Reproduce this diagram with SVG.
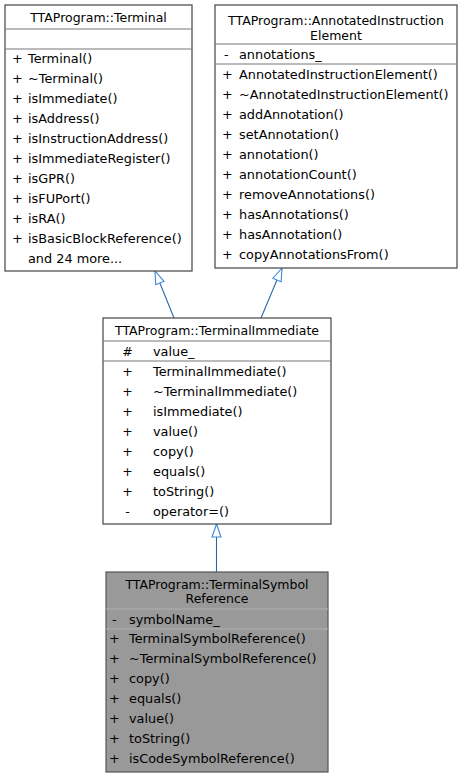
<svg xmlns="http://www.w3.org/2000/svg" width="461" height="777" viewBox="0 0 461 777">
<style>
text{font-family:"DejaVu Sans","Liberation Sans",sans-serif;font-size:12.85px;fill:#000}
.t{text-anchor:middle;font-size:12.5px}
.box{fill:#ffffff;stroke:#444;stroke-width:1.2}
.main{fill:#999999;stroke:#555;stroke-width:1.2}
.sep{stroke:#777;stroke-width:1}
.sepm{stroke:#b0b0b0;stroke-width:1}
.edge{stroke:#2c67ab;stroke-width:1.1;fill:none}
</style>
<defs>
<marker id="inh" markerUnits="userSpaceOnUse" markerWidth="16" markerHeight="12" refX="14" refY="5.5" orient="auto" viewBox="0 0 16 12">
<path d="M1,1 L14,5.5 L1,10 Z" fill="#ffffff" stroke="#3d88d6" stroke-width="1.1"/>
</marker>
</defs>
<g id="connectors">
<line class="edge" x1="174" y1="318" x2="155" y2="271" marker-end="url(#inh)"/>
<line class="edge" x1="261" y1="318" x2="282" y2="268" marker-end="url(#inh)"/>
<line class="edge" x1="216.5" y1="572" x2="216.5" y2="524" marker-end="url(#inh)"/>
</g>
<g id="Terminal">
<rect class="box" x="5" y="5" width="187" height="266"/>
<line class="sep" x1="5" y1="29" x2="192" y2="29"/>
<line class="sep" x1="5" y1="49" x2="192" y2="49"/>
<text class="t" x="98.5" y="21.5">TTAProgram::Terminal</text>
<text x="12" y="63">+</text><text x="28" y="63">Terminal()</text>
<text x="12" y="83">+</text><text x="28" y="83">~Terminal()</text>
<text x="12" y="103">+</text><text x="28" y="103">isImmediate()</text>
<text x="12" y="123">+</text><text x="28" y="123">isAddress()</text>
<text x="12" y="143">+</text><text x="28" y="143">isInstructionAddress()</text>
<text x="12" y="163">+</text><text x="28" y="163">isImmediateRegister()</text>
<text x="12" y="183">+</text><text x="28" y="183">isGPR()</text>
<text x="12" y="203">+</text><text x="28" y="203">isFUPort()</text>
<text x="12" y="223">+</text><text x="28" y="223">isRA()</text>
<text x="12" y="243">+</text><text x="28" y="243">isBasicBlockReference()</text>
<text x="28" y="263">and 24 more...</text>
</g>
<g id="AnnotatedInstructionElement">
<rect class="box" x="215" y="5" width="242" height="263"/>
<line class="sep" x1="215" y1="44" x2="457" y2="44"/>
<line class="sep" x1="215" y1="64" x2="457" y2="64"/>
<text class="t" x="336" y="24.5">TTAProgram::AnnotatedInstruction</text>
<text class="t" x="336" y="39.5">Element</text>
<text x="224" y="59">-</text><text x="239" y="59">annotations_</text>
<text x="222" y="79">+</text><text x="239" y="79">AnnotatedInstructionElement()</text>
<text x="222" y="99">+</text><text x="239" y="99">~AnnotatedInstructionElement()</text>
<text x="222" y="119">+</text><text x="239" y="119">addAnnotation()</text>
<text x="222" y="139">+</text><text x="239" y="139">setAnnotation()</text>
<text x="222" y="159">+</text><text x="239" y="159">annotation()</text>
<text x="222" y="179">+</text><text x="239" y="179">annotationCount()</text>
<text x="222" y="199">+</text><text x="239" y="199">removeAnnotations()</text>
<text x="222" y="219">+</text><text x="239" y="219">hasAnnotations()</text>
<text x="222" y="239">+</text><text x="239" y="239">hasAnnotation()</text>
<text x="222" y="259">+</text><text x="239" y="259">copyAnnotationsFrom()</text>
</g>
<g id="TerminalImmediate">
<rect class="box" x="103" y="318" width="228" height="206"/>
<line class="sep" x1="103" y1="341" x2="331" y2="341"/>
<line class="sep" x1="103" y1="361" x2="331" y2="361"/>
<text class="t" x="217" y="335">TTAProgram::TerminalImmediate</text>
<text class="t" x="127.5" y="355.5">#</text><text x="153" y="355.5">value_</text>
<text class="t" x="127.5" y="375.5">+</text><text x="153" y="375.5">TerminalImmediate()</text>
<text class="t" x="127.5" y="395.5">+</text><text x="153" y="395.5">~TerminalImmediate()</text>
<text class="t" x="127.5" y="415.5">+</text><text x="153" y="415.5">isImmediate()</text>
<text class="t" x="127.5" y="435.5">+</text><text x="153" y="435.5">value()</text>
<text class="t" x="127.5" y="455.5">+</text><text x="153" y="455.5">copy()</text>
<text class="t" x="127.5" y="475.5">+</text><text x="153" y="475.5">equals()</text>
<text class="t" x="127.5" y="495.5">+</text><text x="153" y="495.5">toString()</text>
<text class="t" x="127.5" y="515.5">-</text><text x="153" y="515.5">operator=()</text>
</g>
<g id="TerminalSymbolReference">
<rect class="main" x="106" y="572" width="222" height="200"/>
<line class="sepm" x1="106" y1="609" x2="328" y2="609"/>
<line class="sepm" x1="106" y1="629" x2="328" y2="629"/>
<text class="t" x="217" y="588.5">TTAProgram::TerminalSymbol</text>
<text class="t" x="217" y="602.5">Reference</text>
<text x="112" y="623.5">-</text><text x="129" y="623.5">symbolName_</text>
<text x="109" y="642.5">+</text><text x="129" y="642.5">TerminalSymbolReference()</text>
<text x="109" y="662.5">+</text><text x="129" y="662.5">~TerminalSymbolReference()</text>
<text x="109" y="682.5">+</text><text x="129" y="682.5">copy()</text>
<text x="109" y="702.5">+</text><text x="129" y="702.5">equals()</text>
<text x="109" y="722.5">+</text><text x="129" y="722.5">value()</text>
<text x="109" y="742.5">+</text><text x="129" y="742.5">toString()</text>
<text x="109" y="762.5">+</text><text x="129" y="762.5">isCodeSymbolReference()</text>
</g>
</svg>
